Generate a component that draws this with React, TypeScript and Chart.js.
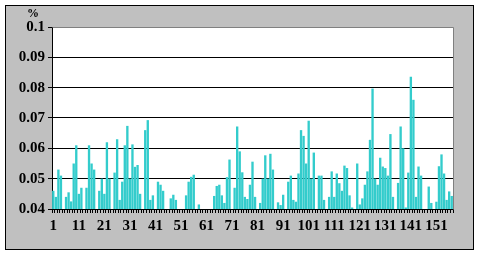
import React, { useEffect, useRef } from "react";
import { Chart, registerables } from "chart.js";

Chart.register(...registerables);

// Category labels 1..157
const categories: string[] = Array.from({ length: 157 }, (_, i) => String(i + 1));

// Only these category labels are shown under the axis
const shownXLabels: string[] = ["1", "11", "21", "31", "41", "51", "61", "71", "81", "91", "101", "111", "121", "131", "141", "151"];

// Y axis tick values
const yTickValues: number[] = [0.04, 0.05, 0.06, 0.07, 0.08, 0.09, 0.1];
const yUnit = "%";

// Series values (values below 0.04 are under the axis minimum and not visible)
const seriesValues: number[] = [
  0.046, 0.044, 0.053, 0.051, 0.039, 0.044, 0.0455, 0.0425, 0.055, 0.061,
  0.045, 0.047, 0.039, 0.047, 0.061, 0.055, 0.053, 0.039, 0.046, 0.05,
  0.045, 0.062, 0.05, 0.039, 0.052, 0.063, 0.043, 0.049, 0.061, 0.0674,
  0.05, 0.0613, 0.0539, 0.0545, 0.045, 0.039, 0.066, 0.0693, 0.043, 0.0445,
  0.039, 0.049, 0.048, 0.046, 0.039, 0.039, 0.0435, 0.0447, 0.043, 0.039,
  0.039, 0.039, 0.0445, 0.049, 0.0506, 0.0513, 0.039, 0.0415, 0.039, 0.039,
  0.039, 0.039, 0.039, 0.0443, 0.0476, 0.048, 0.0445, 0.042, 0.0505, 0.0563,
  0.039, 0.047, 0.0672, 0.059, 0.0521, 0.044, 0.0433, 0.048, 0.0556, 0.044,
  0.039, 0.042, 0.05, 0.0577, 0.05, 0.0582, 0.053, 0.039, 0.0422, 0.0413,
  0.0447, 0.039, 0.049, 0.051, 0.043, 0.0424, 0.0517, 0.066, 0.0641, 0.055,
  0.0691, 0.05, 0.0586, 0.039, 0.051, 0.051, 0.043, 0.039, 0.044, 0.0524,
  0.044, 0.0517, 0.0485, 0.046, 0.0543, 0.0535, 0.0445, 0.0405, 0.039, 0.055,
  0.0415, 0.0435, 0.048, 0.0524, 0.0628, 0.0797, 0.05, 0.048, 0.0569, 0.054,
  0.0535, 0.051, 0.0647, 0.044, 0.039, 0.0486, 0.0672, 0.06, 0.0405, 0.052,
  0.0836, 0.076, 0.044, 0.054, 0.051, 0.039, 0.039, 0.0474, 0.042, 0.039,
  0.0424, 0.0541, 0.058, 0.0517, 0.043, 0.0458, 0.0443,
];

const FONT = "'Liberation Serif', 'Times New Roman', serif";

export default function App() {
  const ref = useRef<HTMLCanvasElement>(null);

  useEffect(() => {
    document.body.style.margin = "0";
    if (!ref.current) return;

    const plotFrame = {
      id: "plotFrame",
      beforeDraw(chart: any) {
        const { ctx, chartArea: a } = chart;
        ctx.save();
        ctx.fillStyle = "#ffffff";
        ctx.fillRect(a.left, a.top, a.right - a.left, a.bottom - a.top);
        ctx.restore();
      },
      afterDraw(chart: any) {
        const { ctx, chartArea: a } = chart;
        ctx.save();
        ctx.strokeStyle = "#808080";
        ctx.lineWidth = 1;
        ctx.beginPath();
        ctx.moveTo(Math.round(a.left) + 0.5, Math.round(a.top) + 0.5);
        ctx.lineTo(Math.round(a.right) + 0.5, Math.round(a.top) + 0.5);
        ctx.lineTo(Math.round(a.right) + 0.5, Math.round(a.bottom) + 0.5);
        ctx.stroke();
        ctx.fillStyle = "#000";
        ctx.font = `bold 12px ${FONT}`;
        ctx.textAlign = "center";
        ctx.textBaseline = "middle";
        ctx.fillText(yUnit, a.left - 19, a.top - 13);
        ctx.restore();
      },
    };

    const chart = new Chart(ref.current, {
      type: "bar",
      data: {
        labels: categories,
        datasets: [
          {
            data: seriesValues,
            backgroundColor: "#33CCCC",
            borderWidth: 0,
            barPercentage: 0.92,
            categoryPercentage: 1,
            clip: 0,
          } as any,
        ],
      },
      options: {
        animation: false,
        responsive: false,
        maintainAspectRatio: false,
        layout: { padding: { left: 0, right: 28, top: 27, bottom: 0 } },
        plugins: { legend: { display: false }, tooltip: { enabled: false } },
        scales: {
          x: {
            grid: {
              display: true,
              drawOnChartArea: false,
              drawTicks: true,
              tickLength: 4,
              color: "#000",
              offset: true,
            },
            border: { color: "#000", width: 1 },
            ticks: {
              autoSkip: false,
              maxRotation: 0,
              minRotation: 0,
              padding: 4,
              color: "#000",
              font: { family: FONT, size: 15, weight: "bold" },
              callback: (_v: any, i: number) =>
                shownXLabels.includes(categories[i]) ? categories[i] : "",
            },
            afterFit: (s: any) => {
              s.height = 47;
            },
          },
          y: {
            min: yTickValues[0],
            max: yTickValues[yTickValues.length - 1],
            ticks: {
              stepSize: 0.01,
              padding: 3,
              color: "#000",
              font: { family: FONT, size: 15, weight: "bold" },
              callback: (v: any) => String(parseFloat(Number(v).toFixed(2))),
            },
            grid: {
              color: (c: any) => (c.tick && c.tick.value > 0.0995 ? "#808080" : "#000"),
              tickColor: "#000",
              tickLength: 4,
              lineWidth: 1,
            },
            border: { color: "#000", width: 1 },
            afterFit: (s: any) => {
              s.width = 52;
            },
          },
        },
      },
      plugins: [plotFrame],
    });
    return () => chart.destroy();
  }, []);

  return (
    <div style={{ position: "relative", width: 481, height: 256, background: "#fff" }}>
      <div
        style={{
          position: "absolute",
          left: 5,
          top: 5,
          width: 469,
          height: 245,
          boxSizing: "border-box",
          border: "1px solid #000",
          background: "#C0C0C0",
        }}
      />
      <canvas
        ref={ref}
        width={481}
        height={256}
        style={{ position: "absolute", left: 0, top: 0, width: 481, height: 256 }}
      />
    </div>
  );
}
